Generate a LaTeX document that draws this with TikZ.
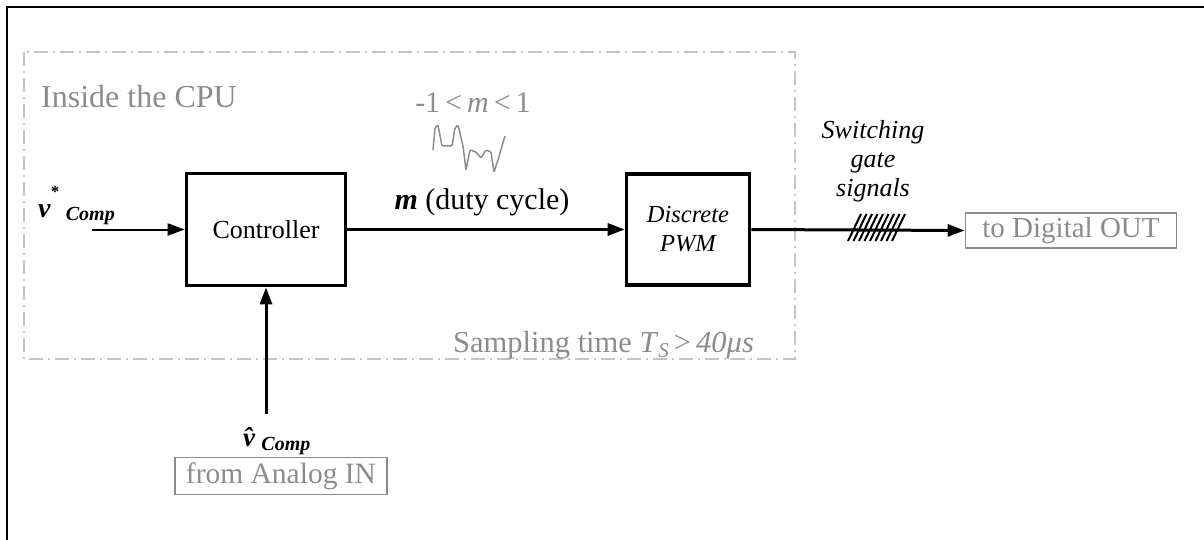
\documentclass[tikz,border=0pt]{standalone}
\usepackage{fontspec}
\setmainfont{Liberation Serif}
\usetikzlibrary{arrows.meta}
\definecolor{txtgray}{HTML}{8C8C8C}
\definecolor{linegray}{HTML}{C4C4C4}
\begin{document}
\begin{tikzpicture}[x=1pt,y=-1pt,
  every node/.style={inner sep=0pt, font=\fontsize{26}{30}\selectfont},
  blk/.style={draw, line width=3.6pt, align=center},
  graybox/.style={draw=txtgray, text=txtgray, line width=1.8pt},
  graytext/.style={text=txtgray},
  arr/.style={-{Triangle[length=17pt,width=12pt]}, line width=2.4pt},
  frame/.style={line width=2.4pt},
  cpu/.style={linegray, line width=1.6pt, dash pattern=on 14pt off 5pt on 2pt off 5pt},
  wave/.style={txtgray, line width=1.5pt, rounded corners=1pt},
  hatch/.style={line width=2pt},
  lbl/.style={font=\fontsize{26}{30}\selectfont\itshape, align=center}
]
\useasboundingbox (0,0) rectangle (1204,540);
\clip (0,0) rectangle (1204,540);
\draw[frame] (7,7) rectangle (1240,580);
\draw[cpu] (24,52) rectangle (795,359);

\node[graytext, anchor=west, font=\fontsize{32}{34}\selectfont] (inside) at (41,97) {Inside the CPU};

\node[blk, minimum width=159pt, minimum height=112pt] (ctrl) at (266,229.5) {Controller};
\node[blk, minimum width=123pt, minimum height=111pt, font=\fontsize{24.5}{29}\selectfont\itshape] (pwm) at (688,229.5) {Discrete\\PWM};

\node[anchor=base west] (vstar) at (38,217) {\fontsize{28}{30}\selectfont\textbf{\textit{v}}\rlap{\raisebox{20pt}{\fontsize{17}{17}\selectfont\bfseries *}}\hspace{15pt}\raisebox{-4pt}{\fontsize{20}{20}\selectfont\bfseries\itshape Comp}};
\coordinate (vin) at (92,229.5);
\draw[arr, line width=2pt] (vin) -- (ctrl.west);

\node[font=\fontsize{30}{32}\selectfont] (mlabel) at (482,202) {\textbf{\textit{m}} (duty cycle)};
\draw[arr, line width=3pt] (ctrl.east) -- (pwm.west);

\node[graytext, font=\fontsize{30}{32}\selectfont] (mrange) at (473,103) {-1\,<\,\textit{m}\,<\,1};
\draw[wave] (433,150) -- (435,128) -- (438,125) -- (442,146) -- (452,146) -- (455,128) -- (458,125) -- (463,146) -- (466,170) -- (470,150) -- (476,152) -- (481,158) -- (486,150) -- (491,152) -- (494,172) -- (498,160) -- (502,146) -- (505,136);

\node[graybox, minimum width=211pt, minimum height=35pt, font=\fontsize{29}{31}\selectfont] (dout) at (1071,230.5) {to Digital OUT};
\draw[arr, line width=3pt] (pwm.east) -- (dout.west);
\foreach \x in {848,853.5,...,893} \draw[hatch] (\x,241) -- (\x+13,214);
\node[lbl] (sw) at (873,161) {Switching\\[-1pt]gate\\[-1pt]signals};

\node[graybox, minimum width=212pt, minimum height=37pt, font=\fontsize{29.5}{31}\selectfont] (ain) at (281,476) {from Analog IN};
\node[anchor=base west] (vhat) at (243,446) {\fontsize{27}{30}\selectfont\textbf{\textit{\^{v}}}\raisebox{-4pt}{\fontsize{20}{20}\selectfont\bfseries\itshape Comp}};
\coordinate (vup) at (266,414);
\draw[arr, line width=3pt] (vup) -- (ctrl.south);

\node[graytext, anchor=west, font=\fontsize{30.5}{33}\selectfont] (samp) at (453,345) {Sampling time \textit{T}\raisebox{-5pt}{\fontsize{21}{21}\selectfont\itshape S}\,>\,\textit{40μs}};
\end{tikzpicture}
\end{document}
